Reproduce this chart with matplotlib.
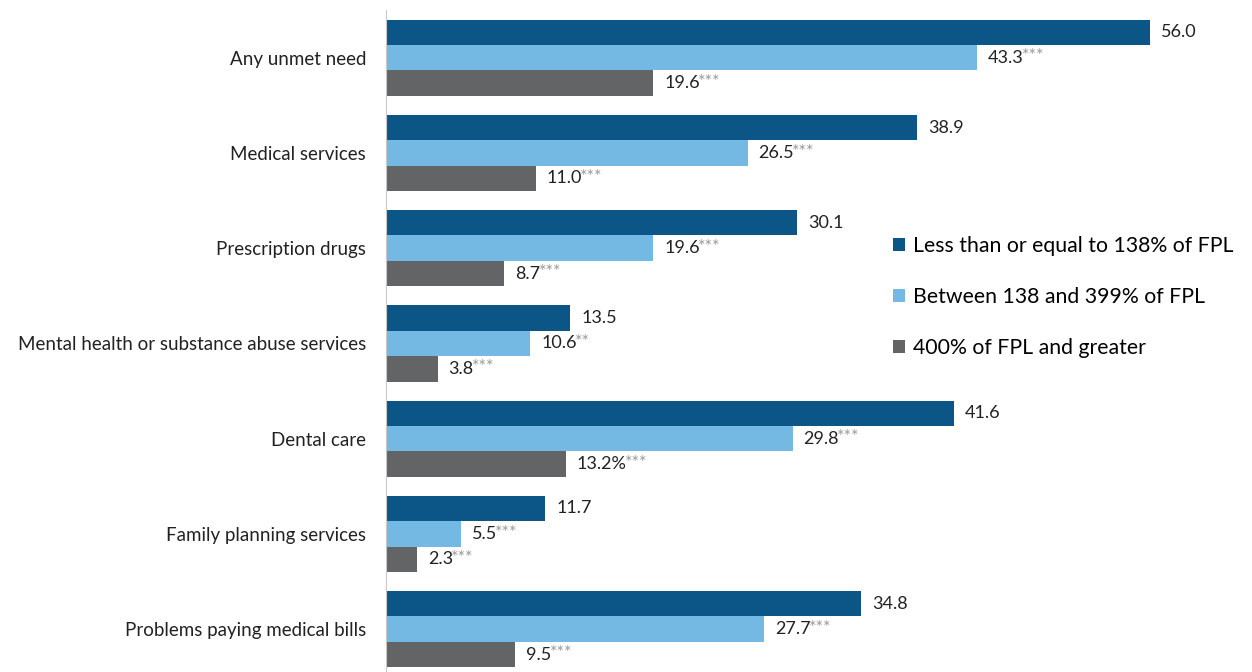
import matplotlib
matplotlib.use("Agg")
import matplotlib.pyplot as plt
import numpy as np

plt.rcParams['font.family'] = ['Lato', 'DejaVu Sans']

categories = ["Any unmet need", "Medical services", "Prescription drugs",
              "Mental health or substance abuse services", "Dental care",
              "Family planning services", "Problems paying medical bills"]
low_income = [56.0, 38.9, 30.1, 13.5, 41.6, 11.7, 34.8]
mid_income = [43.3, 26.5, 19.6, 10.6, 29.8, 5.5, 27.7]
high_income = [19.6, 11.0, 8.7, 3.8, 13.2, 2.3, 9.5]
low_labels = ["56.0", "38.9", "30.1", "13.5", "41.6", "11.7", "34.8"]
mid_labels = ["43.3", "26.5", "19.6", "10.6", "29.8", "5.5", "27.7"]
high_labels = ["19.6", "11.0", "8.7", "3.8", "13.2%", "2.3", "9.5"]
mid_sig = ["***", "***", "***", "**", "***", "***", "***"]
high_sig = ["***", "***", "***", "***", "***", "***", "***"]
series_names = ["Less than or equal to 138% of FPL",
                "Between 138 and 399% of FPL",
                "400% of FPL and greater"]
colors = ["#0b5686", "#74b9e4", "#636466"]

fig = plt.figure(figsize=(12.52, 6.72), dpi=100)
ax = fig.add_axes([0.308, 0.0, 0.685, 0.985])

y = np.arange(len(categories))
h = 0.267
series = [(low_income, low_labels, None),
          (mid_income, mid_labels, mid_sig),
          (high_income, high_labels, high_sig)]

for i, (vals, labs, sig) in enumerate(series):
    pos = y + (i - 1) * h
    ax.barh(pos, vals, height=h, color=colors[i], label=series_names[i])
    for j, v in enumerate(vals):
        t = ax.annotate(labs[j], xy=(v, pos[j]), xytext=(8, 0),
                        textcoords="offset points", va="center", ha="left",
                        fontsize=13, color="#222222")
        if sig is not None:
            # significance stars sit right after the number, raised
            ax.annotate(sig[j], xy=(1, 1.0), xycoords=t, xytext=(-1.5, 1),
                        textcoords="offset points", va="top", ha="left",
                        fontsize=13, color="#9a9a9a")

ax.set_yticks(y)
ax.set_yticklabels(categories, fontsize=13.5, color="#222222")
ax.tick_params(axis="y", length=0, pad=14)
ax.set_xticks([])
ax.set_xlim(0, 62.8)
ax.set_ylim(6.45, -0.5)
for s in ["top", "right", "bottom"]:
    ax.spines[s].set_visible(False)
ax.spines["left"].set_color("#c8c8c8")

ax.legend(loc="upper left", bbox_to_anchor=(0.582, 0.671), frameon=False,
          fontsize=15.3, handlelength=0.55, handleheight=0.55,
          handletextpad=0.4, labelspacing=1.45, borderaxespad=0)

fig.savefig("out.png", dpi=100)
